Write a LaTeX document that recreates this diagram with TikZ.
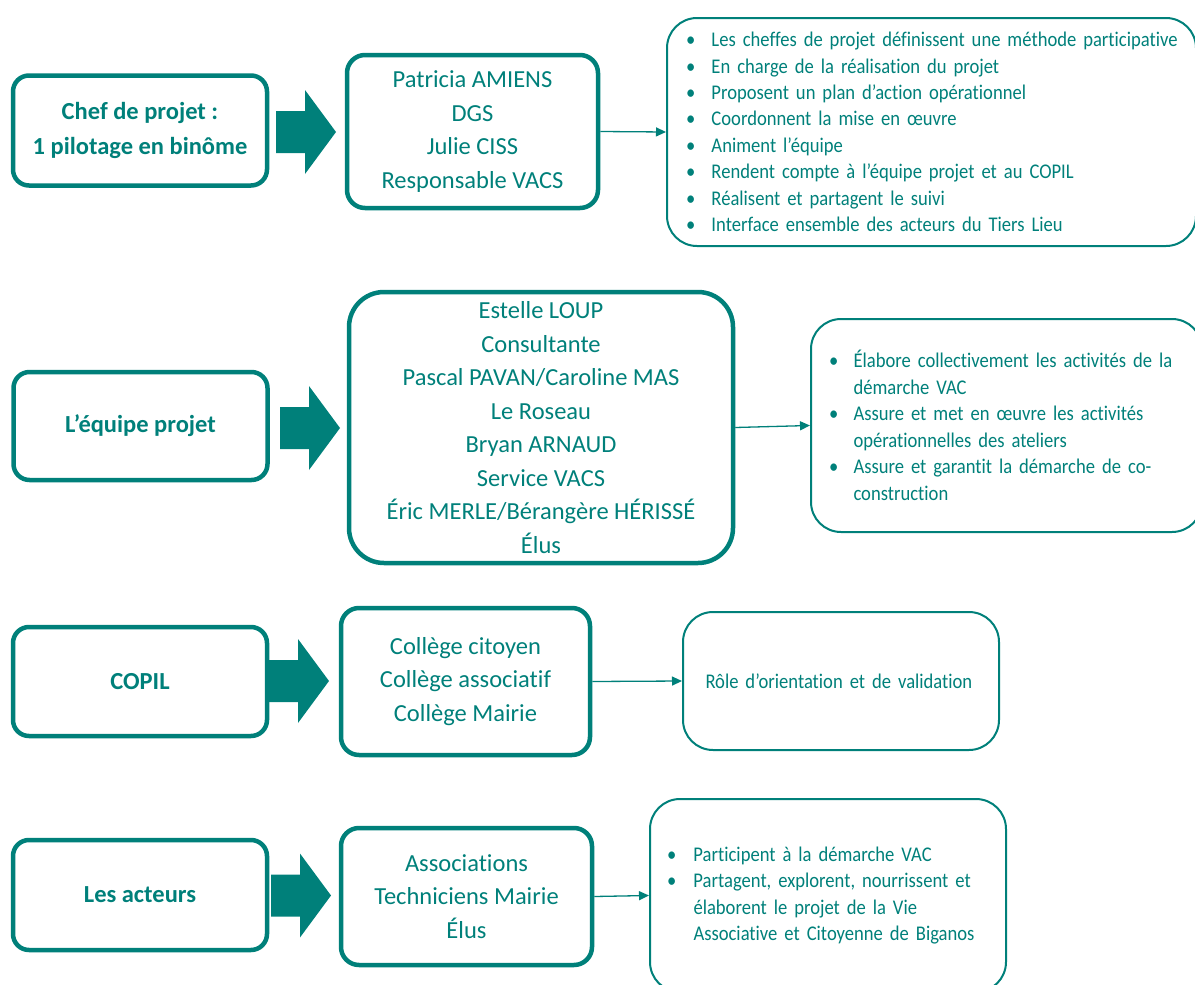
\documentclass[tikz,border=0pt]{standalone}
\usepackage{fontspec}
\setmainfont{Carlito}[Ligatures={NoCommon}]
\newfontfamily\infofont{Carlito}[FakeStretch=0.89, Ligatures={NoCommon}]
\usetikzlibrary{arrows.meta}
\definecolor{tealc}{RGB}{0,128,122}
\tikzset{
  leftbox/.style={draw=tealc, line width=4.5pt, rounded corners=16pt, minimum width=254pt, minimum height=110pt, inner sep=0pt, align=center, text=tealc, font=\bfseries\fontsize{24.5}{35}\selectfont},
  midbox/.style={draw=tealc, line width=4.5pt, rounded corners=18pt, inner sep=0pt, align=center, text=tealc, font=\fontsize{24.5}{33.5}\selectfont},
  infobox/.style={draw=tealc, line width=2pt, rounded corners=30pt, inner ysep=0pt, align=left, text=tealc, font=\infofont\fontsize{20.9}{26.4}\selectfont},
  link/.style={draw=tealc, line width=1.3pt, -{Triangle[length=10pt,width=9pt]}},
  blockarrow/.pic={\fill[tealc] (0,-21) -- (29,-21) -- (29,-42) -- (60,0) -- (29,42) -- (29,21) -- (0,21) -- cycle;}
}
\newcommand{\bul}[2]{\mbox{\makebox[#1][l]{•}#2}}
\newcommand{\cont}[2]{\mbox{\hspace*{#1}#2}}
\begin{document}
\begin{tikzpicture}[x=1pt,y=-1pt]
\useasboundingbox (0,0) rectangle (1195,985);
% Row 1
\node[leftbox] (l1) at (140,130.5) {Chef de projet :\\1 pilotage en binôme};
\pic at (276,132) {blockarrow};
\node[midbox, minimum width=251pt, minimum height=153pt] (m1) at (472.5,131.5) {Patricia AMIENS\\DGS\\Julie CISS\\Responsable VACS};
\node[infobox, minimum width=529pt, minimum height=228pt, inner xsep=19pt, text width=491pt] (r1) at (931.5,132) {%
\bul{25.5pt}{Les cheffes de projet définissent une méthode participative}\\
\bul{25.5pt}{En charge de la réalisation du projet}\\
\bul{25.5pt}{Proposent un plan d’action opérationnel}\\
\bul{25.5pt}{Coordonnent la mise en œuvre}\\
\bul{25.5pt}{Animent l’équipe}\\
\bul{25.5pt}{Rendent compte à l’équipe projet et au COPIL}\\
\bul{25.5pt}{Réalisent et partagent le suivi}\\
\bul{25.5pt}{Interface ensemble des acteurs du Tiers Lieu}};
\draw[link] (m1.east) -- (r1.west);
% Row 2
\node[leftbox, minimum height=108pt] (l2) at (140.5,426) {L’équipe projet};
\pic at (280,428) {blockarrow};
\node[midbox, rounded corners=35pt, minimum width=384pt, minimum height=271pt] (m2) at (541,427.5) {Estelle LOUP\\Consultante\\Pascal PAVAN/Caroline MAS\\Le Roseau\\Bryan ARNAUD\\Service VACS\\Éric MERLE/Bérangère HÉRISSÉ\\Élus};
\node[infobox, minimum width=391pt, minimum height=213pt, inner xsep=18pt, text width=355pt, font=\infofont\fontsize{20.9}{26.5}\selectfont] (r2) at (1006.5,425.5) {%
\bul{24.5pt}{Élabore collectivement les activités de la}\\
\cont{24.5pt}{démarche VAC}\\
\bul{24.5pt}{Assure et met en œuvre les activités}\\
\cont{24.5pt}{opérationnelles des ateliers}\\
\bul{24.5pt}{Assure et garantit la démarche de co-}\\
\cont{24.5pt}{construction}};
\draw[link] (m2.east) -- (r2.west);
% Row 3
\node[leftbox, minimum height=109pt] (l3) at (140,681.5) {COPIL};
\pic at (269,681) {blockarrow};
\node[midbox, minimum width=249pt, minimum height=147pt] (m3) at (465.5,681.5) {Collège citoyen\\Collège associatif\\Collège Mairie};
\node[infobox, minimum width=316pt, minimum height=138pt, inner xsep=22.5pt, text width=271pt] (r3) at (841,681) {\mbox{Rôle d’orientation et de validation}};
\draw[link] (m3.east) -- (r3.west);
% Row 4
\node[leftbox] (l4) at (140,895) {Les acteurs};
\pic at (271,895.5) {blockarrow};
\node[midbox, minimum width=251pt, minimum height=137pt] (m4) at (466.5,896.5) {Associations\\Techniciens Mairie\\Élus};
\node[infobox, minimum width=356pt, minimum height=193pt, inner xsep=17pt, text width=322pt, font=\infofont\fontsize{20.9}{26.3}\selectfont] (r4) at (828,895.5) {%
\bul{26.5pt}{Participent à la démarche VAC}\\
\bul{26.5pt}{Partagent, explorent, nourrissent et}\\
\cont{26.5pt}{élaborent le projet de la Vie}\\
\cont{26.5pt}{Associative et Citoyenne de Biganos}};
\draw[link] (m4.east) -- (r4.west);
\end{tikzpicture}
\end{document}
